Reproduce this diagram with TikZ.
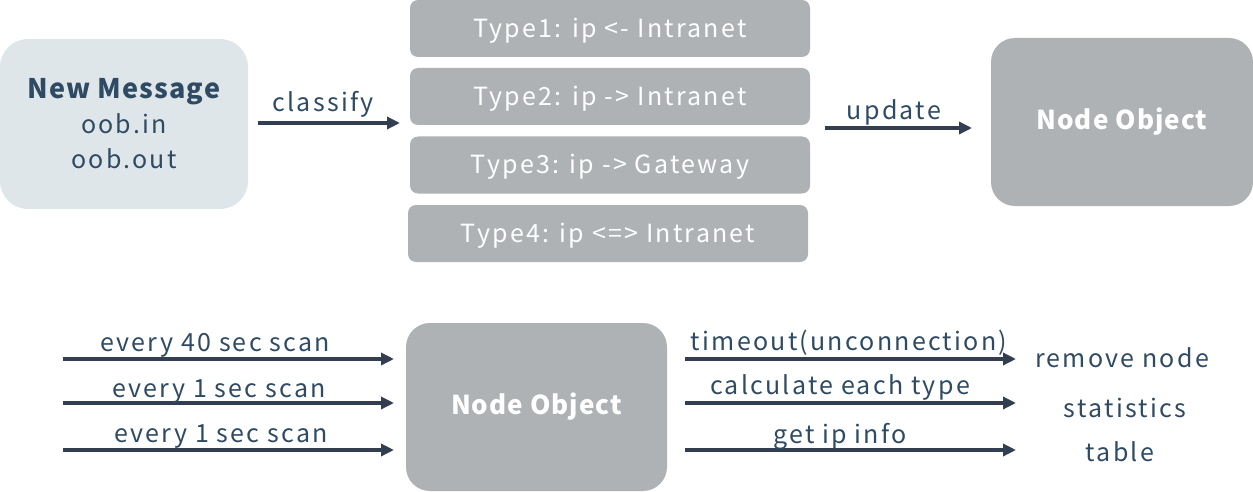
\documentclass[tikz,border=0pt]{standalone}
\usepackage{fontspec}
\setmainfont{Noto Sans CJK JP}
\newfontfamily\lbfont[LetterSpace=9]{Noto Sans CJK JP}
\newfontfamily\bdfont[LetterSpace=4]{Noto Sans CJK JP}
\usetikzlibrary{arrows.meta}
\definecolor{lightbox}{HTML}{DFE6EA}
\definecolor{graybox}{HTML}{AEB2B4}
\definecolor{txt}{HTML}{2F4A63}
\definecolor{arr}{HTML}{333E50}
\tikzset{
  lbox/.style={fill=lightbox, rounded corners=28pt, inner sep=0pt, minimum width=248pt, minimum height=170pt, text=txt, align=center, font=\lbfont\fontsize{25}{35}\selectfont},
  typebox/.style={fill=graybox, rounded corners=8pt, inner sep=0pt, minimum width=400pt, minimum height=57pt, text=white, font=\lbfont\fontsize{25}{28}\selectfont},
  typetext/.style={text=white, inner sep=0pt, font=\lbfont\fontsize{25}{28}\selectfont},
  objbox/.style={fill=graybox, rounded corners=24pt, inner sep=0pt, minimum width=262pt, minimum height=168pt, text=white, font=\bdfont\fontsize{26}{28}\selectfont\bfseries},
  lbl/.style={text=txt, inner sep=0pt, yshift=-2.5pt, font=\lbfont\fontsize{25}{28}\selectfont},
  flow/.style={draw=arr, line width=3.4pt, -{Triangle[length=13pt,width=12pt]}},
}
\begin{document}
\begin{tikzpicture}[x=1pt,y=-1pt]
\useasboundingbox (0,0) rectangle (1253,492);
% top row
\node[lbox] (msg) at (124,124) {{\bdfont\fontsize{27}{35}\selectfont\bfseries New Message}\\oob.in\\oob.out};
\node[typebox] (t1) at (610,28.5) {};
\node[typebox] (t2) at (610,96.5) {};
\node[typebox] (t3) at (610,165) {};
\node[typebox] (t4) at (608,233.5) {};
\node[typetext] (t1t) at ([yshift=-2pt]t1.center) {Type1: ip <- Intranet};
\node[typetext] (t2t) at ([yshift=-2pt]t2.center) {Type2: ip -> Intranet};
\node[typetext] (t3t) at ([yshift=-2pt]t3.center) {Type3: ip -> Gateway};
\node[typetext] (t4t) at ([yshift=-2pt]t4.center) {Type4: ip <=> Intranet};
\node[objbox] (obj1) at (1122,122) {Node Object};
\coordinate (c1s) at (258,123);
\coordinate (c1e) at (400,123);
\draw[flow] (c1s) -- (c1e);
\node[lbl] (classify) at (323,102) {classify};
\coordinate (u1s) at (825,128);
\coordinate (u1e) at (972,128);
\draw[flow] (u1s) -- (u1e);
\node[lbl] (update) at (894,110) {update};
% bottom row
\node[objbox, minimum width=261pt] (obj2) at (536.5,407) {Node Object};
\coordinate (l1s) at (63,359); \coordinate (l1e) at (394,359);
\coordinate (l2s) at (63,403); \coordinate (l2e) at (394,403);
\coordinate (l3s) at (63,450); \coordinate (l3e) at (394,450);
\draw[flow] (l1s) -- (l1e);
\draw[flow] (l2s) -- (l2e);
\draw[flow] (l3s) -- (l3e);
\node[lbl] (s40) at (215,343) {every 40 sec scan};
\node[lbl] (s1a) at (219,389) {every 1 sec scan};
\node[lbl] (s1b) at (221,434) {every 1 sec scan};
\coordinate (r1s) at (685,359); \coordinate (r1e) at (1016,359);
\coordinate (r2s) at (685,403); \coordinate (r2e) at (1016,403);
\coordinate (r3s) at (685,450); \coordinate (r3e) at (1016,450);
\draw[flow] (r1s) -- (r1e);
\draw[flow] (r2s) -- (r2e);
\draw[flow] (r3s) -- (r3e);
\node[lbl] (tmo) at (849,340) {timeout(unconnection)};
\node[lbl] (calc) at (840,385) {calculate each type};
\node[lbl] (getip) at (840,434) {get ip info};
\node[lbl] (rm) at (1122,355) {remove node};
\node[lbl] (stat) at (1125,405) {statistics};
\node[lbl] (tbl) at (1120,449) {table};
\end{tikzpicture}
\end{document}
